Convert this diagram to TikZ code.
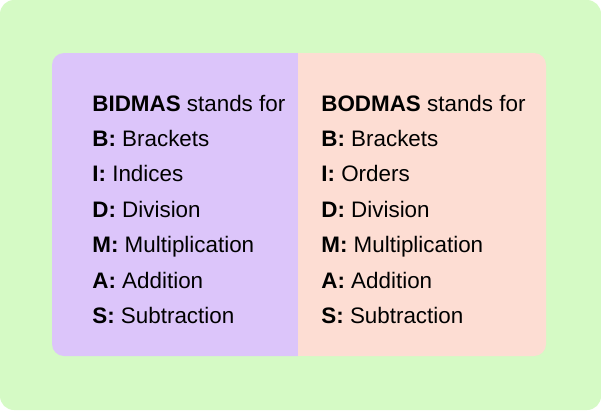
\documentclass[tikz,border=0pt]{standalone}
\usepackage{fontspec}
\setmainfont{Liberation Sans}
\definecolor{bgGreen}{RGB}{213,250,197}
\definecolor{panelPurple}{RGB}{220,197,250}
\definecolor{panelPink}{RGB}{253,221,211}
\tikzset{every picture/.style={line width=0.75pt}}
\tikzset{listText/.style={anchor=base west,inner sep=0pt,font=\fontsize{22.4}{26}\selectfont}}
\begin{document}
\begin{tikzpicture}[x=1pt,y=1pt,yscale=-1]
\useasboundingbox (0,0) rectangle (601,410);
%Background
\fill [bgGreen, rounded corners=14pt] (0,0) rectangle (601,410);
%Left panel
\fill [panelPurple, rounded corners=12pt] (52,53) rectangle (310,356);
\fill [panelPurple] (290,53) rectangle (298,356);
%Right panel
\fill [panelPink, rounded corners=12pt] (298,53) rectangle (546,356);
\fill [panelPink] (298,53) rectangle (320,356);

% Left column
\node (bidmasTitle) [listText] at (92,111) {\textbf{BIDMAS} stands for};
\node (bidmasB) [listText] at (92,146) {\textbf{B:} Brackets};
\node (bidmasI) [listText] at (92,181) {\textbf{I:} Indices};
\node (bidmasD) [listText] at (92,217) {\textbf{D:} Division};
\node (bidmasM) [listText] at (92,252) {\textbf{M:} Multiplication};
\node (bidmasA) [listText] at (92,288) {\textbf{A:} Addition};
\node (bidmasS) [listText] at (92,323) {\textbf{S:} Subtraction};
% Right column
\node (bodmasTitle) [listText] at (321,111) {\textbf{BODMAS} stands for};
\node (bodmasB) [listText] at (321,146) {\textbf{B:} Brackets};
\node (bodmasO) [listText] at (321,181) {\textbf{I:} Orders};
\node (bodmasD) [listText] at (321,217) {\textbf{D:} Division};
\node (bodmasM) [listText] at (321,252) {\textbf{M:} Multiplication};
\node (bodmasA) [listText] at (321,288) {\textbf{A:} Addition};
\node (bodmasS) [listText] at (321,323) {\textbf{S:} Subtraction};
\end{tikzpicture}
\end{document}
